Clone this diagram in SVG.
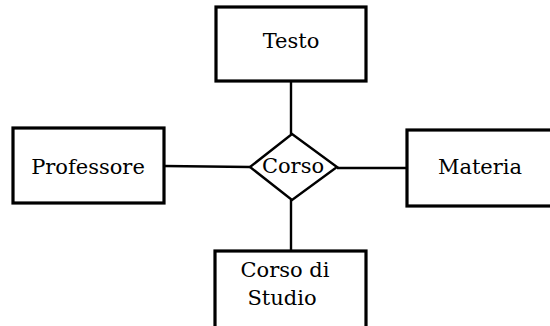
<svg xmlns="http://www.w3.org/2000/svg" width="550" height="326" viewBox="0 0 550 326">
<style>
.box{fill:#fff;stroke:#000;stroke-width:3.2}
.rel{fill:#fff;stroke:#000;stroke-width:2.4}
.lnk{stroke:#000;stroke-width:2.4;fill:none}
text{font-family:"DejaVu Serif",serif;font-size:21px;fill:#000;text-anchor:middle}
</style>
<rect width="550" height="326" fill="#fff"/>
<g id="connectors">
<line class="lnk" x1="291" y1="81" x2="291" y2="134"/>
<line class="lnk" x1="164" y1="166" x2="250" y2="167"/>
<line class="lnk" x1="337" y1="168" x2="407" y2="168"/>
<line class="lnk" x1="291" y1="200" x2="291" y2="251"/>
</g>
<g id="testo">
<rect class="box" x="216" y="7" width="150" height="74"/>
<text x="291" y="48">Testo</text>
</g>
<g id="professore">
<rect class="box" x="13" y="128" width="151" height="75"/>
<text x="88" y="174">Professore</text>
</g>
<g id="materia">
<rect class="box" x="407" y="130" width="160" height="76"/>
<text x="480" y="174">Materia</text>
</g>
<g id="corso-di-studio">
<rect class="box" x="215" y="251" width="151" height="80"/>
<text x="285" y="277">Corso di</text>
<text x="282" y="305">Studio</text>
</g>
<g id="corso">
<polygon class="rel" points="292,134 337,167 292,200 250,167"/>
<text x="293" y="173">Corso</text>
</g>
</svg>
